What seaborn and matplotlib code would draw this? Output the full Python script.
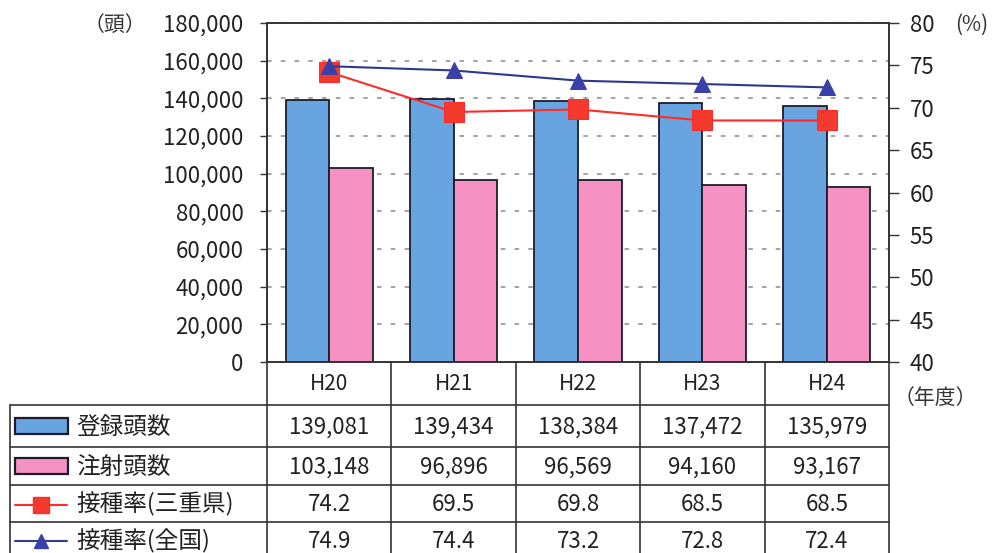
import numpy as np
import pandas as pd
import matplotlib.pyplot as plt
import seaborn as sns
from matplotlib.patches import Rectangle
from matplotlib.lines import Line2D
from matplotlib.ticker import MultipleLocator, StrMethodFormatter
from matplotlib.transforms import blended_transform_factory

# data
years = ['H20', 'H21', 'H22', 'H23', 'H24']
registered = [139081, 139434, 138384, 137472, 135979]
injected = [103148, 96896, 96569, 94160, 93167]
rate_mie = [74.2, 69.5, 69.8, 68.5, 68.5]
rate_all = [74.9, 74.4, 73.2, 72.8, 72.4]
row_labels = ['登録頭数', '注射頭数', '接種率(三重県)', '接種率(全国)']

sns.set_theme(style='white')
plt.rcParams['font.family'] = ['Noto Sans CJK JP', 'DejaVu Sans']

blue = '#68A5E0'
pink = '#F592C3'
red = '#FF2B2B'
navy = '#2D3A8C'
edge = '#1c1c2c'
fs = 16

W, H = 994, 553
L, R, T, B = 267, 889, 23, 362   # plot area in pixels

fig = plt.figure(figsize=(W / 100, H / 100), dpi=100)
ax = fig.add_axes([L / W, 1 - B / H, (R - L) / W, (B - T) / H])

df = pd.DataFrame({'year': years * 2,
                   'count': registered + injected,
                   'kind': [row_labels[0]] * 5 + [row_labels[1]] * 5})
sns.barplot(data=df, x='year', y='count', hue='kind', palette=[blue, pink],
            width=0.7, saturation=1, edgecolor=edge, linewidth=1.3,
            legend=False, ax=ax)
ax.set_xlim(-0.5, 4.5)
ax.set_ylim(0, 180000)
ax.yaxis.set_major_locator(MultipleLocator(20000))
ax.yaxis.set_major_formatter(StrMethodFormatter('{x:,.0f}'))
ax.grid(axis='y', linestyle=(0, (3, 6)), color='#8a8a8a', lw=1.1)
ax.set_axisbelow(True)
ax.set_xlabel('')
ax.set_ylabel('')
ax.tick_params(axis='x', length=0, labelbottom=False)
ax.tick_params(axis='y', labelsize=fs, length=5, width=1, left=True,
               color='#333', pad=12, labelcolor='#222')

ax2 = ax.twinx()
sns.lineplot(x=years, y=rate_mie, ax=ax2, color=red, lw=1.5, marker='s',
             markersize=14, markerfacecolor='#F43A2E', markeredgecolor=red,
             sort=False)
sns.lineplot(x=years, y=rate_all, ax=ax2, color=navy, lw=1.5, marker='^',
             markersize=12, markerfacecolor='#3b3fa8', markeredgecolor='#3b3fa8',
             sort=False)
ax2.set_xlim(-0.5, 4.5)
ax2.set_ylim(40, 80)
ax2.yaxis.set_major_locator(MultipleLocator(5))
ax2.set_ylabel('')
ax2.grid(False)
ax2.tick_params(axis='y', labelsize=fs, length=7, width=1, right=True,
                color='#333', pad=8, labelcolor='#222')
ax2.tick_params(axis='x', length=0, labelbottom=False)

for a in (ax, ax2):
    for s in a.spines.values():
        s.set_color('#333')
        s.set_linewidth(1.2)

# table under the plot
tab = fig.add_axes([0, 0, 1, 1])
tab.set_xlim(0, W)
tab.set_ylim(H, 0)
tab.axis('off')
tab.patch.set_visible(False)
bt = blended_transform_factory(ax.transData, tab.transData)

row_y = [B, 405, 447, 485, 522, 575]
lc = '#333'
for i in range(len(years) + 1):
    tab.plot([i - 0.5, i - 0.5], [B, H + 5], color=lc, lw=1.2,
             transform=bt, clip_on=False)
tab.plot([10, 10], [row_y[1], H + 5], color=lc, lw=1.2)
for y in row_y[1:5]:
    tab.plot([10, R], [y, y], color=lc, lw=1.2)

centers = [(row_y[k] + row_y[k + 1]) / 2 + 1 for k in range(5)]
centers[4] = 541
rows = [
    [f'{v:,}' for v in registered],
    [f'{v:,}' for v in injected],
    [f'{v:.1f}' for v in rate_mie],
    [f'{v:.1f}' for v in rate_all],
]
for i, yr in enumerate(years):
    tab.text(i, centers[0], yr, transform=bt, ha='center', va='center',
             fontsize=fs - 1, color='#222')
    for k, r in enumerate(rows):
        tab.text(i, centers[k + 1], r[i], transform=bt, ha='center',
                 va='center', fontsize=fs, color='#222')

# legend column
tab.add_patch(Rectangle((15, 418), 53, 16, facecolor=blue, edgecolor=edge, lw=1.6))
tab.add_patch(Rectangle((15, 458), 53, 16, facecolor=pink, edgecolor=edge, lw=1.6))
tab.add_line(Line2D([15, 41, 67], [centers[3]] * 3, color=red, lw=1.5,
                    marker='s', markersize=11, markevery=[1],
                    markerfacecolor='#F43A2E', markeredgecolor=red))
tab.add_line(Line2D([15, 41, 67], [centers[4]] * 3, color=navy, lw=1.5,
                    marker='^', markersize=10, markevery=[1],
                    markerfacecolor='#3b3fa8', markeredgecolor='#3b3fa8'))
for k, lab in enumerate(row_labels):
    tab.text(76, centers[k + 1], lab, ha='left', va='center', fontsize=17,
             color='#222')

# unit labels
tab.text(115, T + 2, '（頭）', ha='center', va='center', fontsize=15, color='#333')
tab.text(972, T + 2, '(%)', ha='center', va='center', fontsize=15, color='#333')
tab.text(935, 398, '（年度）', ha='center', va='center', fontsize=15, color='#333')

fig.savefig('out.png', dpi=100)
